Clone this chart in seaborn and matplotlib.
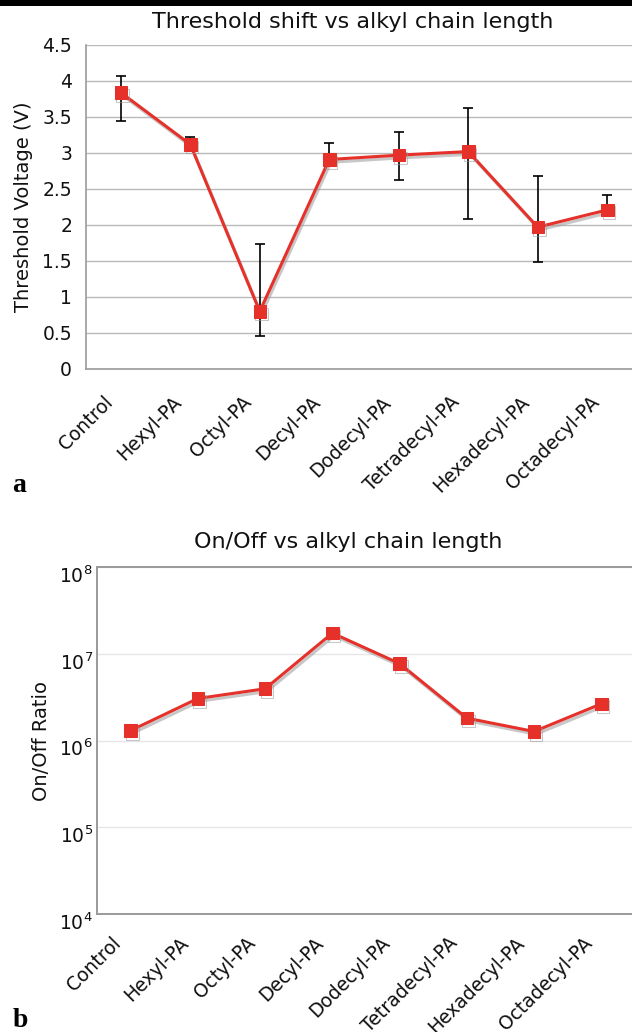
import numpy as np
import pandas as pd
import matplotlib
matplotlib.use("Agg")
import matplotlib.pyplot as plt
import matplotlib.patheffects as pe
from matplotlib.patches import Rectangle
from matplotlib.transforms import ScaledTranslation
import seaborn as sns

categories = ["Control", "Hexyl-PA", "Octyl-PA", "Decyl-PA", "Dodecyl-PA",
              "Tetradecyl-PA", "Hexadecyl-PA", "Octadecyl-PA"]
threshold_v = [3.84, 3.12, 0.80, 2.91, 2.97, 3.02, 1.97, 2.21]
err_upper = [4.07, 3.22, 1.73, 3.14, 3.29, 3.63, 2.68, 2.41]
err_lower = [3.44, 3.05, 0.46, 2.82, 2.63, 2.09, 1.48, 2.13]
onoff = [1.30e6, 3.05e6, 3.95e6, 1.73e7, 7.7e6, 1.81e6, 1.27e6, 2.65e6]
v_ticks = [0, 0.5, 1, 1.5, 2, 2.5, 3, 3.5, 4, 4.5]
v_ticklabels = ["0", "0.5", "1", "1.5", "2", "2.5", "3", "3.5", "4", "4.5"]
r_ticks = [1e4, 1e5, 1e6, 1e7, 1e8]
r_ticklabels = [r"$10^{4}$", r"$10^{5}$", r"$10^{6}$", r"$10^{7}$", r"$10^{8}$"]

sns.set_theme(style="white")
plt.rcParams["font.family"] = ["DejaVu Sans"]
plt.rcParams["mathtext.fontset"] = "dejavusans"

RED = "#e5312a"
GRID = "#b9b9b9"
AX = "#9a9a9a"
TXT = "#111111"
TICK_FS = 13.5
LAB_FS = 14

df = pd.DataFrame({"cat": categories, "x": np.arange(len(categories)),
                   "v": threshold_v, "r": onoff})

fig = plt.figure(figsize=(6.32, 10.32), dpi=100)
fig.patch.set_facecolor("white")
fig.add_artist(Rectangle((0, 1 - 6 / 1032), 1, 6 / 1032, transform=fig.transFigure,
                         facecolor="black", edgecolor="none"))

shadow = [pe.SimpleLineShadow(offset=(1.2, -2.0), shadow_color="#9a9a9a", alpha=0.55), pe.Normal()]


def shift_labels(labels, dx_px, dy_px):
    off = ScaledTranslation(dx_px / 100.0, dy_px / 100.0, fig.dpi_scale_trans)
    for lab in labels:
        lab.set_transform(lab.get_transform() + off)


# ---------- Top panel ----------
ax1 = fig.add_axes([86 / 632, 1 - 369 / 1032, (642 - 86) / 632, (369 - 45) / 1032])
ax1.set_xlim(-0.5, 7.5)
ax1.set_ylim(0, 4.5)
ax1.set_yticks(v_ticks)
ax1.set_yticklabels(v_ticklabels)
ax1.grid(axis="y", color=GRID, linewidth=1.0)
ax1.set_axisbelow(True)
yerr = np.array([np.array(threshold_v) - np.array(err_lower),
                 np.array(err_upper) - np.array(threshold_v)])
ax1.errorbar(df["x"], df["v"], yerr=yerr, fmt="none", ecolor="black",
             elinewidth=1.2, capsize=3.5, capthick=1.2, zorder=2)
sns.lineplot(data=df, x="x", y="v", ax=ax1, color=RED, linewidth=2.2,
             marker="s", markersize=9, markeredgecolor=RED, zorder=3,
             path_effects=shadow)
ax1.set_xticks(df["x"])
ax1.set_xticklabels(categories, rotation=45, ha="right", rotation_mode="anchor",
                    fontsize=TICK_FS, color=TXT)
ax1.set_xticks([-0.5, 2.5, 5.5, 6.5], minor=True)
ax1.tick_params(axis="x", which="major", length=0, pad=17)
ax1.tick_params(axis="x", which="minor", length=5, color=AX, width=1)
ax1.tick_params(axis="y", length=5, color=AX, width=1, labelsize=TICK_FS, labelcolor=TXT, pad=5)
shift_labels(ax1.get_xticklabels(), -18, 0)
for s in ["right", "top"]:
    ax1.spines[s].set_visible(False)
for s in ["left", "bottom"]:
    ax1.spines[s].set_color(AX)
    ax1.spines[s].set_linewidth(1.2)
ax1.set_xlabel("")
ax1.set_ylabel("")
fig.text(24 / 632, 1 - 207 / 1032, "Threshold Voltage (V)", rotation=90,
         ha="center", va="center", fontsize=LAB_FS, color=TXT)
fig.text(353 / 632, 1 - 22 / 1032, "Threshold shift vs alkyl chain length",
         ha="center", va="center", fontsize=16, color=TXT)
fig.text(12 / 632, 1 - 492 / 1032, "a", fontsize=20, fontweight="bold",
         family="Liberation Serif", ha="left", va="baseline", color="black")

# ---------- Bottom panel ----------
ax2 = fig.add_axes([97 / 632, 1 - 914 / 1032, (635 - 97) / 632, (914 - 567) / 1032])
ax2.set_yscale("log")
ax2.set_xlim(-0.5, 7.5)
ax2.set_ylim(1e4, 1e8)
ax2.set_yticks(r_ticks)
ax2.set_yticklabels(r_ticklabels)
ax2.yaxis.set_minor_locator(matplotlib.ticker.NullLocator())
ax2.grid(axis="y", color="#e6e6e6", linewidth=1.0)
ax2.set_axisbelow(True)
sns.lineplot(data=df, x="x", y="r", ax=ax2, color=RED, linewidth=2.2,
             marker="s", markersize=9, markeredgecolor=RED, zorder=3,
             path_effects=shadow)
ax2.set_xticks(df["x"])
ax2.set_xticklabels(categories, rotation=45, ha="right", rotation_mode="anchor",
                    fontsize=TICK_FS, color=TXT)
ax2.set_xticks([1.5, 2.5, 3.5, 4.5], minor=True)
ax2.tick_params(axis="x", which="major", length=0, pad=14)
ax2.tick_params(axis="x", which="minor", length=5, color=AX, width=1)
ax2.tick_params(axis="y", length=0, labelsize=TICK_FS, labelcolor=TXT, pad=3)
shift_labels(ax2.get_xticklabels(), -19, 0)
shift_labels(ax2.get_yticklabels(), 0, -7)
ax2.spines["right"].set_visible(False)
for s in ["left", "bottom", "top"]:
    ax2.spines[s].set_color(AX)
    ax2.spines[s].set_linewidth(1.4)
ax2.set_xlabel("")
ax2.set_ylabel("")
fig.text(42 / 632, 1 - 741 / 1032, "On/Off Ratio", rotation=90,
         ha="center", va="center", fontsize=LAB_FS, color=TXT)
fig.text(348 / 632, 1 - 542 / 1032, "On/Off vs alkyl chain length",
         ha="center", va="center", fontsize=16, color=TXT)
fig.text(13 / 632, 1 - 1027 / 1032, "b", fontsize=20, fontweight="bold",
         family="Liberation Serif", ha="left", va="baseline", color="black")

fig.savefig("out.png", dpi=100)
